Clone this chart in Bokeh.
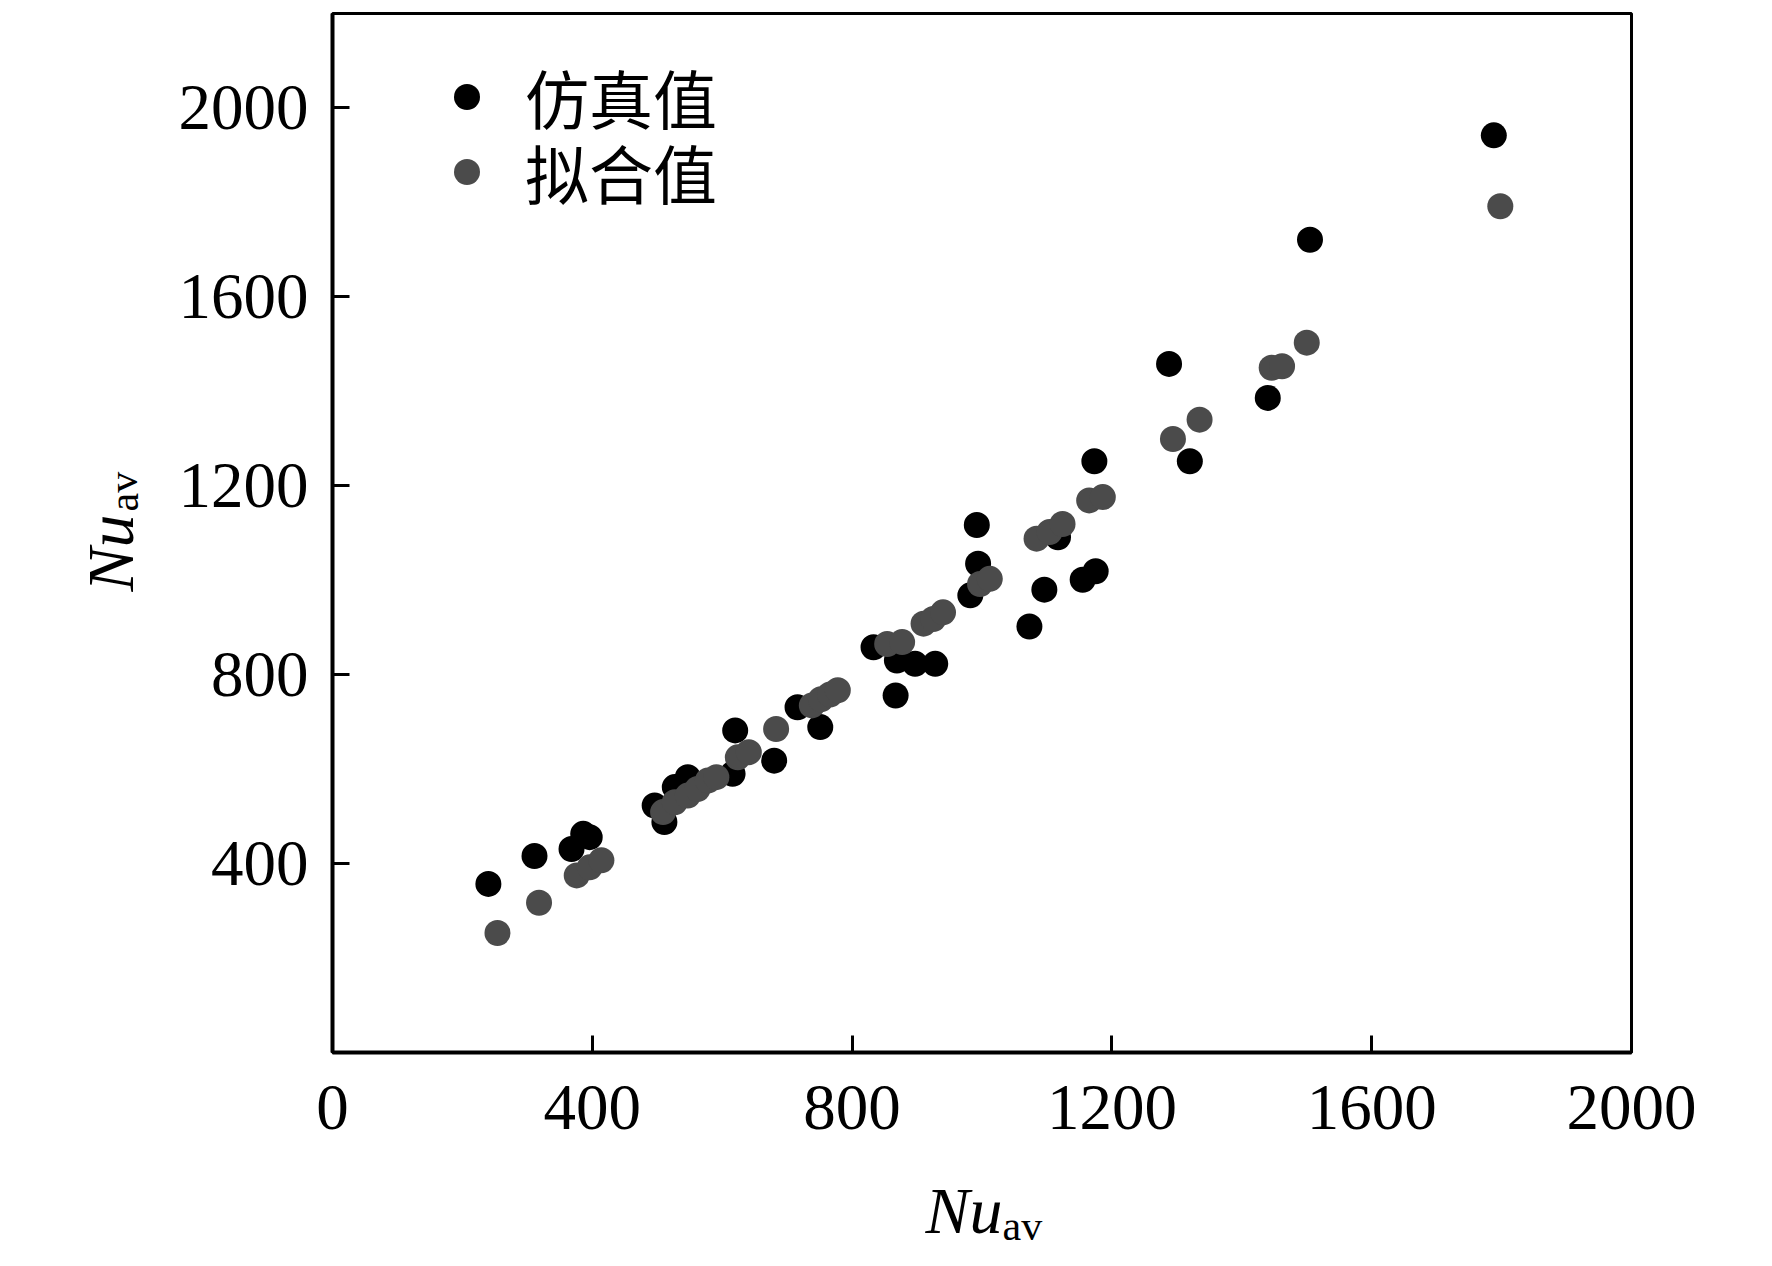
from bokeh.plotting import figure
from bokeh.layouts import row, column
from bokeh.models import Legend, LegendItem, FixedTicker, Range1d
from bokeh.core.properties import value
from bokeh.embed import file_html
from bokeh.resources import INLINE

# 仿真值 (simulated)
sim_x = [240, 311, 368, 386, 396, 496, 511, 527, 547, 616, 620, 680, 716, 751,
         833, 869, 867, 897, 928, 982, 992, 994, 1073, 1096, 1117, 1155, 1175,
         1173, 1288, 1320, 1440, 1505, 1788]
sim_y = [357, 416, 431, 463, 456, 523, 488, 562, 583, 590, 682, 618, 731, 689,
         858, 830, 756, 823, 823, 968, 1117, 1035, 902, 980, 1091, 1001, 1019,
         1252, 1458, 1252, 1386, 1721, 1942]

# 拟合值 (fitted)
fit_x = [254, 318, 376, 396, 414, 509, 527, 547, 562, 578, 591, 624, 641, 683,
         738, 752, 766, 778, 854, 877, 910, 925, 940, 997, 1012, 1084, 1104,
         1124, 1165, 1186, 1294, 1335, 1446, 1462, 1500, 1798]
fit_y = [253, 317, 375, 392, 407, 509, 530, 544, 558, 576, 583, 625, 636, 685,
         735, 748, 758, 767, 865, 869, 908, 918, 932, 992, 1003, 1088, 1102,
         1119, 1169, 1176, 1299, 1340, 1450, 1453, 1503, 1792]

x_ticks = [0, 400, 800, 1200, 1600, 2000]
y_ticks = [400, 800, 1200, 1600, 2000]
legend_labels = ["仿真值", "拟合值"]
axis_title_main = "Nu"
axis_title_sub = "av"

SERIF = "Liberation Serif"
CJK = "Noto Sans CJK SC"

TOTAL_W = 1756
YL_W = 160          # width of the strip holding the y-axis title
MAIN_H = 1172       # height of the main plot
XL_H = 86           # height of the strip holding the x-axis title
FRAME_W, FRAME_H = 1299, 1039
MAIN_W = TOTAL_W - YL_W

# ---------------- main plot ----------------
p = figure(width=MAIN_W, height=MAIN_H, x_range=Range1d(0, 2000), y_range=Range1d(0, 2200),
           output_backend="svg", toolbar_location=None, frame_align=False,
           min_border_left=332 - YL_W, min_border_right=MAIN_W - (332 - YL_W) - FRAME_W,
           min_border_top=13, min_border_bottom=MAIN_H - 13 - FRAME_H)

p.grid.visible = False
p.outline_line_color = "black"
p.outline_line_width = 3
p.background_fill_color = "white"
p.border_fill_color = "white"

for ax in (p.xaxis, p.yaxis):
    ax.axis_line_width = 4
    ax.axis_line_color = "black"
    ax.major_tick_in = 17
    ax.major_tick_out = 0
    ax.major_tick_line_width = 3
    ax.minor_tick_line_color = None
    ax.major_label_text_font = SERIF
    ax.major_label_text_font_size = "65px"
    ax.major_label_text_color = "black"

p.xaxis.ticker = FixedTicker(ticks=x_ticks)
p.yaxis.ticker = FixedTicker(ticks=y_ticks)
p.xaxis.major_label_standoff = 33
p.yaxis.major_label_standoff = 24

r1 = p.scatter(sim_x, sim_y, size=26, color="black", line_width=0)
r2 = p.scatter(fit_x, fit_y, size=26, color="#4b4b4b", line_width=0)

legend_style = dict(orientation="vertical", glyph_width=65, glyph_height=65,
                    label_standoff=26, spacing=0, padding=0, margin=0,
                    border_line_alpha=0, background_fill_alpha=0,
                    label_text_font=CJK, label_text_font_size="64px",
                    label_text_color="black")
leg1 = Legend(items=[LegendItem(label=legend_labels[0], renderers=[r1])],
              location=(102, 910), **legend_style)
leg2 = Legend(items=[LegendItem(label=legend_labels[1], renderers=[r2])],
              location=(102, 835), **legend_style)
p.add_layout(leg1)
p.add_layout(leg2)

# ---------------- y-axis title strip ----------------
yl = figure(width=YL_W, height=MAIN_H, x_range=Range1d(0, YL_W), y_range=Range1d(0, MAIN_H),
            x_axis_type=None, y_axis_type=None, output_backend="svg", toolbar_location=None,
            min_border=0, outline_line_color=None, frame_align=False)
yl.grid.visible = False
yl.text(x=[110], y=[MAIN_H - 591], text=[axis_title_main], angle=1.5708,
        text_font=value(SERIF), text_font_style="italic", text_font_size="66px",
        text_baseline="alphabetic", text_align="left", text_color="black")
yl.text(x=[123], y=[MAIN_H - 511], text=[axis_title_sub], angle=1.5708,
        text_font=value(SERIF), text_font_size="42px",
        text_baseline="alphabetic", text_align="left", text_color="black")

# ---------------- x-axis title strip ----------------
xl = figure(width=TOTAL_W, height=XL_H, x_range=Range1d(0, TOTAL_W), y_range=Range1d(0, XL_H),
            x_axis_type=None, y_axis_type=None, output_backend="svg", toolbar_location=None,
            min_border=0, outline_line_color=None, frame_align=False)
xl.grid.visible = False
xl.text(x=[925], y=[48], text=[axis_title_main],
        text_font=value(SERIF), text_font_style="italic", text_font_size="66px",
        text_baseline="alphabetic", text_align="left", text_color="black")
xl.text(x=[1002], y=[33], text=[axis_title_sub],
        text_font=value(SERIF), text_font_size="42px",
        text_baseline="alphabetic", text_align="left", text_color="black")

layout = column(row(yl, p, spacing=0), xl, spacing=0)
open("out.html", "w").write(file_html(layout, INLINE))
